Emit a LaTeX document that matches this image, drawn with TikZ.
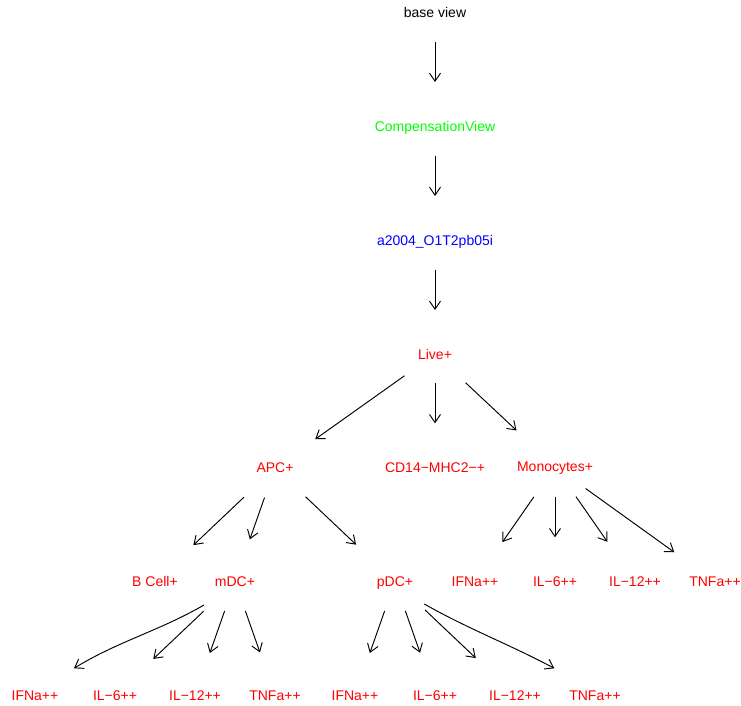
\documentclass[tikz,border=0pt]{standalone}
\usepackage{fontspec}
\setmainfont{Liberation Sans}
\usetikzlibrary{arrows.meta}
\definecolor{gvred}{HTML}{FF0000}
\definecolor{gvgreen}{HTML}{00FF00}
\definecolor{gvblue}{HTML}{0000FF}
\tikzset{
  lab/.style={inner sep=0pt, text height=10pt, text depth=0pt, font=\fontsize{14}{16}\selectfont, text=gvred},
  arr/.style={line width=0.95pt, -{Straight Barb[length=8pt,width=11pt,line width=0.95pt]}},
}
\begin{document}
\begin{tikzpicture}[x=1pt,y=1pt]
\useasboundingbox (0,0) rectangle (741,705);
% nodes
\node[lab, text=black] (base) at (435,692) {base view};
\node[lab, text=gvgreen] (comp) at (435,578.3) {CompensationView};
\node[lab, text=gvblue] (samp) at (435,464.6) {a2004\_O1T2pb05i};
\node[lab] (live) at (435,350.9) {Live+};
\node[lab] (apc) at (275,237.2) {APC+};
\node[lab] (cd14) at (435,237.2) {CD14−MHC2−+};
\node[lab] (mono) at (555,238.5) {Monocytes+};
\node[lab] (bcell) at (155,123.5) {B Cell+};
\node[lab] (mdc) at (235,123.5) {mDC+};
\node[lab] (pdc) at (395,123.5) {pDC+};
\node[lab] (mifna) at (475,123.5) {IFNa++};
\node[lab] (mil6) at (555,123.5) {IL−6++};
\node[lab] (mil12) at (635,123.5) {IL−12++};
\node[lab] (mtnfa) at (715,123.5) {TNFa++};
\node[lab] (aifna) at (35,9.8) {IFNa++};
\node[lab] (ail6) at (115,9.8) {IL−6++};
\node[lab] (ail12) at (195,9.8) {IL−12++};
\node[lab] (atnfa) at (275,9.8) {TNFa++};
\node[lab] (pifna) at (355,9.8) {IFNa++};
\node[lab] (pil6) at (435,9.8) {IL−6++};
\node[lab] (pil12) at (515,9.8) {IL−12++};
\node[lab] (ptnfa) at (595,9.8) {TNFa++};
% edges
\draw[arr, shorten <=29pt, shorten >=44.7pt] (base.center) -- (comp.center);
\draw[arr, shorten <=29.3pt, shorten >=44.4pt] (comp.center) -- (samp.center);
\draw[arr, shorten <=29.6pt, shorten >=44.1pt] (samp.center) -- (live.center);
\draw[arr, shorten <=37.4pt, shorten >=49.3pt] (live.center) -- (apc.center);
\draw[arr, shorten <=29.2pt, shorten >=44.5pt] (live.center) -- (cd14.center);
\draw[arr, shorten <=41.9pt, shorten >=52.7pt] (live.center) -- (mono.center);
\draw[arr, shorten <=42.8pt, shorten >=52.9pt] (apc.center) -- (bcell.center);
\draw[arr, shorten <=31.5pt, shorten >=44.7pt] (apc.center) -- (mdc.center);
\draw[arr, shorten <=42.1pt, shorten >=53.6pt] (apc.center) -- (pdc.center);
\draw[arr, shorten <=37.1pt, shorten >=48pt] (mono.center) -- (mifna.center);
\draw[arr, shorten <=30.8pt, shorten >=44.2pt] (mono.center) -- (mil6.center);
\draw[arr, shorten <=36.7pt, shorten >=48.4pt] (mono.center) -- (mil12.center);
\draw[arr, shorten <=37.7pt, shorten >=50.1pt] (mono.center) -- (mtnfa.center);
\draw[arr] ([shift={(-31,-23.5)}]mdc.center) .. controls +(-45,-26) and +(44,27) .. ([shift={(39,26.9)}]aifna.center);
\draw[arr, shorten <=43.3pt, shorten >=52.7pt] (mdc.center) -- (ail6.center);
\draw[arr, shorten <=31.2pt, shorten >=44.7pt] (mdc.center) -- (ail12.center);
\draw[arr, shorten <=31.2pt, shorten >=45.3pt] (mdc.center) -- (atnfa.center);
\draw[arr, shorten <=31.2pt, shorten >=44.7pt] (pdc.center) -- (pifna.center);
\draw[arr, shorten <=31pt, shorten >=45pt] (pdc.center) -- (pil6.center);
\draw[arr, shorten <=41.4pt, shorten >=54pt] (pdc.center) -- (pil12.center);
\draw[arr] ([shift={(29.3,-22.5)}]pdc.center) .. controls +(44,-25) and +(-45,24) .. ([shift={(-40.7,26.9)}]ptnfa.center);
\end{tikzpicture}
\end{document}
